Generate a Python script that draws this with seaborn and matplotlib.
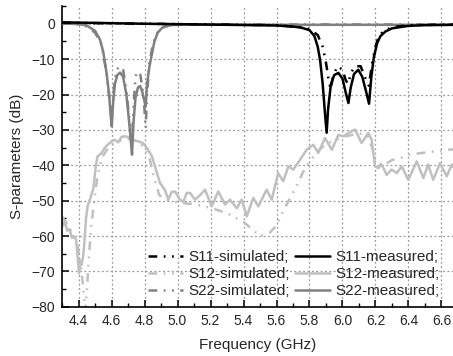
#!/usr/bin/env python3
"""S-parameters of the dual-band filter: simulated vs measured"""

import numpy as np
import matplotlib
matplotlib.use("Agg")
import matplotlib.pyplot as plt
from matplotlib.ticker import MultipleLocator
import seaborn as sns

# ---- data (GHz, dB) ----
s11_sim_f = [4.30, 5.00, 5.60, 5.75, 5.80, 5.85, 5.88, 5.90, 5.915, 5.928, 5.945,
             5.97, 6.00, 6.02, 6.035, 6.05, 6.075, 6.11, 6.135, 6.16, 6.18, 6.20,
             6.22, 6.25, 6.30, 6.40, 6.67]
s11_sim_db = [0.3, -0.1, -0.4, -1.0, -1.5, -3.2, -6.5, -11, -15.5, -18.5, -14.5,
              -12, -13, -16, -17, -14, -12, -12, -15, -17.5, -11, -6.5,
              -3.5, -2, -1, -0.4, -0.2]

s11_meas_f = [4.30, 4.80, 5.30, 5.60, 5.70, 5.75, 5.80, 5.83, 5.85, 5.865, 5.88,
              5.895, 5.904, 5.913, 5.93, 5.95, 5.975, 6.00, 6.02, 6.036, 6.05,
              6.07, 6.096, 6.12, 6.145, 6.161, 6.175, 6.19, 6.21, 6.23, 6.26,
              6.30, 6.40, 6.50, 6.67]
s11_meas_db = [0.4, 0.0, -0.3, -0.5, -0.8, -1.1, -1.8, -3.5, -6.5, -10.5, -17,
               -26, -30.8, -24, -17, -14.5, -13.9, -15.5, -19.5, -22.4, -18,
               -14.2, -13, -15, -19.5, -22.6, -15, -9.5, -5.5, -3.5, -2.2,
               -1.3, -0.6, -0.4, -0.3]

s12_sim_f = [4.30, 4.33, 4.36, 4.39, 4.41, 4.425, 4.435, 4.44, 4.45, 4.46, 4.475,
             4.495, 4.515, 4.54, 4.58, 4.62, 4.66, 4.70, 4.75, 4.80, 4.83, 4.86,
             4.89, 4.95, 5.00, 5.10, 5.20, 5.30, 5.40, 5.45, 5.50, 5.56, 5.60,
             5.64, 5.68, 5.72, 5.76, 5.80, 5.85, 5.90, 5.95, 6.00, 6.10, 6.15,
             6.18, 6.20, 6.25, 6.30, 6.35, 6.40, 6.50, 6.60, 6.67]
s12_sim_db = [-54.5, -56.5, -59, -62, -67, -73, -78, -81, -76, -68, -58,
              -50, -43, -38, -35, -33.5, -33, -32.5, -33, -35, -38, -44,
              -48.5, -50, -50.5, -51, -52, -53.5, -56, -58, -60, -59, -57,
              -53, -49.5, -46, -42, -39, -36, -34, -33, -32, -31, -31.5,
              -35, -39, -40, -38.5, -38, -37, -36.4, -35.8, -35.5]

s12_meas_f = [4.300, 4.310, 4.320, 4.330, 4.345, 4.360, 4.370, 4.385, 4.395, 4.403,
              4.412, 4.419, 4.427, 4.435, 4.445, 4.455, 4.470, 4.490, 4.505, 4.515,
              4.540, 4.560, 4.580, 4.590, 4.605, 4.620, 4.640, 4.660, 4.680, 4.700,
              4.730, 4.760, 4.790, 4.820, 4.845, 4.864, 4.894, 4.924, 4.944, 4.965,
              4.985, 5.015, 5.035, 5.056, 5.076, 5.106, 5.135, 5.167, 5.207, 5.247,
              5.288, 5.318, 5.359, 5.389, 5.420, 5.459, 5.490, 5.540, 5.571, 5.610,
              5.641, 5.672, 5.702, 5.742, 5.783, 5.823, 5.853, 5.894, 5.935, 5.975,
              6.005, 6.035, 6.076, 6.116, 6.156, 6.177, 6.197, 6.217, 6.238, 6.268,
              6.298, 6.329, 6.359, 6.399, 6.450, 6.490, 6.520, 6.550, 6.591, 6.632,
              6.662, 6.670]
s12_meas_db = [-55.5, -57, -56, -58.5, -58, -60.5, -60, -61, -66, -70.5,
               -67, -68, -66, -62, -55, -51.5, -49.5, -46.5, -40, -37.5,
               -36.5, -35, -34, -33.7, -33, -32.8, -33.5, -32, -31.8, -32,
               -33, -33.2, -33.7, -35.5, -37.5, -40.4, -45, -47, -49.7, -47.5,
               -47.4, -49.7, -50.3, -47.8, -47.8, -49.7, -48.5, -46.9, -51.6, -47.4,
               -51.1, -49.7, -52.1, -49.7, -54.4, -49.2, -51.6, -46.9, -49.7, -42.2,
               -44.5, -40.3, -41.2, -38.5, -35.6, -34.2, -36.5, -32.3, -35.6, -31.4,
               -31.8, -30.9, -29.9, -33.7, -30.9, -32.8, -40.3, -40.8, -39.8, -42.7,
               -41.2, -42.2, -40.3, -44.1, -38.9, -43.6, -39.8, -44.1, -39.4, -43.1,
               -39.8, -40.5]

s22_sim_f = [4.30, 4.40, 4.45, 4.50, 4.54, 4.57, 4.59, 4.60, 4.615, 4.63, 4.65,
             4.67, 4.69, 4.71, 4.722, 4.735, 4.745, 4.755, 4.775, 4.795, 4.807,
             4.815, 4.83, 4.85, 4.87, 4.90, 4.95, 5.10, 6.67]
s22_sim_db = [0.2, -0.2, -0.8, -2.5, -6, -14, -22, -28, -18, -13, -12,
              -13, -19, -28, -35, -22, -15, -13.5, -14.5, -21, -29.5,
              -20, -11, -6, -3, -1.2, -0.5, -0.2, -0.2]

s22_meas_f = [4.30, 4.40, 4.45, 4.50, 4.53, 4.55, 4.57, 4.585, 4.595, 4.601, 4.61,
              4.62, 4.635, 4.652, 4.67, 4.69, 4.705, 4.715, 4.724, 4.733, 4.745,
              4.76, 4.773, 4.785, 4.795, 4.807, 4.815, 4.83, 4.845, 4.86, 4.88,
              4.91, 4.95, 5.05, 5.50, 6.00, 6.67]
s22_meas_db = [0.1, -0.1, -0.5, -2, -4.5, -8, -14, -20, -26, -29, -22,
               -17, -14.5, -13.8, -15, -20, -27, -32, -37, -28, -21,
               -18, -17.6, -19, -21, -23.4, -17, -12, -8.5, -5, -2.5,
               -1, -0.4, -0.2, -0.3, -0.3, -0.3]

legend_labels = ["S11-simulated;", "S12-simulated;", "S22-simulated;",
                 "S11-measured;", "S12-measured;", "S22-measured;"]

BLACK = "#000000"
LIGHT = "#c0c0c0"
MID = "#808080"
DASHDOTDOT = (0, (3.5, 2.6, 0.7, 2.6, 0.7, 2.6))

sns.set_style("ticks")
plt.rcParams['font.family'] = ['Liberation Sans', 'DejaVu Sans']
plt.rcParams['font.size'] = 10

fig = plt.figure(figsize=(4.53, 3.56), dpi=100)
ax = fig.add_axes([0.137, 0.138, 0.863, 0.845])

series = [
    (s11_sim_f, s11_sim_db, BLACK, DASHDOTDOT, 5),
    (s12_sim_f, s12_sim_db, LIGHT, DASHDOTDOT, 2),
    (s22_sim_f, s22_sim_db, MID, DASHDOTDOT, 3),
    (s11_meas_f, s11_meas_db, BLACK, "-", 6),
    (s12_meas_f, s12_meas_db, LIGHT, "-", 2),
    (s22_meas_f, s22_meas_db, MID, "-", 4),
]

handles = []
for (f, db, col, ls, z), lab in zip(series, legend_labels):
    sns.lineplot(x=f, y=db, ax=ax, color=col, linestyle=ls, linewidth=1.8,
                 estimator=None, sort=False, zorder=z, legend=False)
    line = ax.lines[-1]
    line.set_label(lab)
    handles.append(line)

if ax.get_legend() is not None:
    ax.get_legend().remove()

ax.set_xlim(4.3, 6.67)
ax.set_ylim(-80, 5)
ax.xaxis.set_minor_locator(MultipleLocator(0.1))
ax.yaxis.set_minor_locator(MultipleLocator(5))
xt = np.round(np.arange(4.4, 6.61, 0.2), 1)
ax.set_xticks(xt)
ax.set_xticklabels([f"{v:.1f}" for v in xt])
ax.set_yticks(np.arange(-80, 1, 10))
ax.tick_params(which="both", direction="in", labelsize=10, color="black")
ax.tick_params(which="major", length=5, width=1.1, pad=5)
ax.tick_params(which="minor", length=3, width=1.0)
ax.grid(True, which="major", linestyle=(0, (1.5, 2.0)), color="#999999", linewidth=0.9)

sns.despine(ax=ax)
for s in ("left", "bottom"):
    ax.spines[s].set_color("black")
    ax.spines[s].set_linewidth(1.2)

ax.set_xlabel("Frequency (GHz)", fontsize=11, labelpad=7)
ax.set_ylabel("S-parameters (dB)", fontsize=11, labelpad=5)

fig.legend(handles=handles, ncol=2, frameon=False, fontsize=11,
           loc="lower left", bbox_to_anchor=(0.327, 0.163),
           handlelength=2.3, handletextpad=0.35, columnspacing=0.3,
           labelspacing=0.18, borderpad=0, borderaxespad=0)

fig.savefig("out.png", dpi=100)
plt.close(fig)
